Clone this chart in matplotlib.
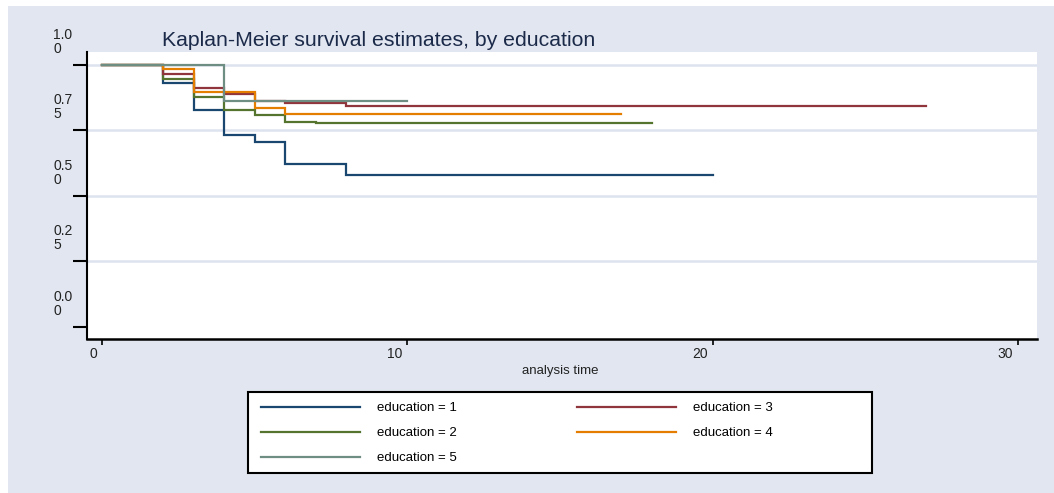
import matplotlib
matplotlib.use('Agg')
import matplotlib.pyplot as plt
from matplotlib.patches import Rectangle

# Kaplan-Meier step estimates per education level (time, survival)
t_edu1 = [0, 2, 3, 4, 5, 6, 8, 20]
s_edu1 = [1.0, 0.931, 0.828, 0.733, 0.707, 0.622, 0.581, 0.581]
t_edu2 = [0, 2, 3, 4, 5, 6, 7, 18]
s_edu2 = [1.0, 0.947, 0.879, 0.828, 0.809, 0.784, 0.777, 0.777]
t_edu3 = [0, 2, 3, 4, 5, 6, 8, 27]
s_edu3 = [1.0, 0.966, 0.913, 0.889, 0.864, 0.855, 0.845, 0.845]
t_edu4 = [0, 2, 3, 5, 6, 17]
s_edu4 = [1.0, 0.983, 0.897, 0.837, 0.812, 0.812]
t_edu5 = [0, 4, 10]
s_edu5 = [1.0, 0.864, 0.864]

labels = ['education = 1', 'education = 2', 'education = 3',
          'education = 4', 'education = 5']
colors = ['#1a476f', '#55752f', '#90353b', '#e37e00', '#6e8e84']

xticks = [0, 10, 20, 30]
xticklabels = ['0', '10', '20', '30']
yticks = [0.0, 0.25, 0.5, 0.75, 1.0]
yticklabels = ['0.0\n0', '0.2\n5', '0.5\n0', '0.7\n5', '1.0\n0']

plt.rcParams['font.family'] = ['Liberation Sans', 'DejaVu Sans']

W, H = 1054, 493
fig = plt.figure(figsize=(W / 100, H / 100), dpi=100)
fig.patch.set_facecolor('white')
bg = '#e1e6f0'
fig.patches.append(Rectangle((8 / W, 0), 1, 1 - 6 / H, transform=fig.transFigure,
                             facecolor=bg, edgecolor='none', zorder=-10))

ax = fig.add_axes([87 / W, 1 - 339 / H, 950 / W, 287 / H])
ax.set_facecolor('white')

times = [t_edu1, t_edu2, t_edu3, t_edu4, t_edu5]
survs = [s_edu1, s_edu2, s_edu3, s_edu4, s_edu5]
handles = []
for t, s, c, lab in zip(times, survs, colors, labels):
    h, = ax.step(t, s, where='post', color=c, lw=1.6, label=lab,
                 solid_joinstyle='miter')
    handles.append(h)

# horizontal grid, no line at zero
for v in yticks[1:]:
    ax.axhline(v, color='#dde3ef', lw=1.8, zorder=0)

ax.set_xlim(-0.49, 30.62)
ax.set_ylim(-0.0458, 1.0496)

for side in ['top', 'right']:
    ax.spines[side].set_visible(False)
ax.spines['left'].set_linewidth(1.5)
ax.spines['bottom'].set_linewidth(1.8)

ax.set_yticks(yticks)
ax.set_yticklabels([])
ax.set_xticks(xticks)
ax.set_xticklabels([])
ax.tick_params(axis='y', direction='out', length=10, width=1.5)
ax.tick_params(axis='x', direction='out', length=4.5, width=1.2)

for v, lab in zip(yticks, yticklabels):
    ax.annotate(lab, xy=(0, v), xycoords=('axes fraction', 'data'),
                xytext=(-34, 9), textcoords='offset pixels',
                ha='left', va='bottom', fontsize=10, linespacing=1.0,
                color='#222222', annotation_clip=False)
for t, lab in zip(xticks, xticklabels):
    ax.annotate(lab, xy=(t, 0), xycoords=('data', 'axes fraction'),
                xytext=(-5, -8), textcoords='offset pixels',
                ha='right', va='top', fontsize=10, color='#222222',
                annotation_clip=False)

ax.annotate('analysis time', xy=(0.5, 0), xycoords='axes fraction',
            xytext=(-2, -26), textcoords='offset pixels',
            ha='center', va='top', fontsize=9.5, color='#222222')

fig.text(162 / W, 1 - 46 / H, 'Kaplan-Meier survival estimates, by education',
         fontsize=15.3, color='#1c2a4a', ha='left', va='baseline')

# legend box
fig.patches.append(Rectangle((248 / W, 1 - 473 / H), 624 / W, 81 / H,
                             transform=fig.transFigure, facecolor='white',
                             edgecolor='black', lw=1.5, zorder=1))
order = [0, 1, 4, 2, 3]
leg = fig.legend([handles[i] for i in order], [labels[i] for i in order],
                 loc='upper left', bbox_to_anchor=(261 / W, 1 - 402 / H),
                 bbox_transform=fig.transFigure, ncol=2, frameon=False,
                 borderpad=0, borderaxespad=0, fontsize=9.5,
                 handlelength=7.5, handletextpad=1.29, columnspacing=9.1,
                 labelspacing=0.97)
leg.set_zorder(2)
for line in leg.get_lines():
    line.set_linewidth(1.6)

fig.savefig('out.png', dpi=100, facecolor=fig.get_facecolor())
